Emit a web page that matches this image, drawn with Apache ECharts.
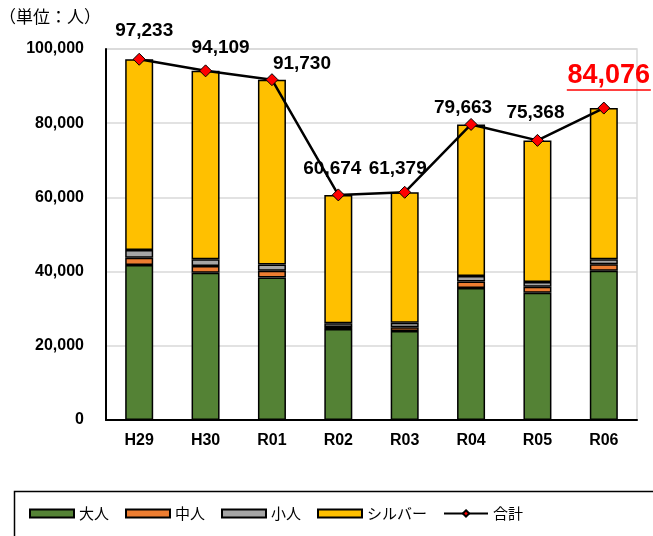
<!DOCTYPE html>
<html>
<head>
<meta charset="utf-8">
<script src="https://cdn.jsdelivr.net/npm/echarts@6/dist/echarts.min.js"></script>
<style>html,body{margin:0;padding:0;background:#fff;}#c{width:653px;height:536px;}</style>
</head>
<body>
<div id="c"></div>
<script>
const categories = ['H29','H30','R01','R02','R03','R04','R05','R06'];
const adult  = [41800, 39700, 38400, 24500, 24000, 35600, 34300, 40200];
const middle = [1900, 1800, 1800, 600, 1000, 1700, 1600, 1800];
const child  = [2100, 1800, 1700, 1000, 1200, 1500, 1300, 1300];
const silver = [51433, 50809, 49830, 34574, 35179, 40863, 38168, 40776];
const total  = [97233, 94109, 91730, 60674, 61379, 79663, 75368, 84076];
const yTicks = [0, 20000, 40000, 60000, 80000, 100000];
const seriesNames = ['大人','中人','小人','シルバー','合計'];
const unitText = '（単位：人）';

// label nudges (styling only)
const labelNudge = [[5,-7],[15,-2],[30,5],[-6,-5],[-7,-3],[-8,4],[-2,-7],[5,-8]];

const numFont = '"Liberation Sans",Arial,sans-serif';
const numWeight = 'bold';
const jpFont = '"Noto Sans CJK JP","Noto Sans",sans-serif';
const fmt = v => v.toLocaleString('en-US');

const chart = echarts.init(document.getElementById('c'), null, {renderer:'canvas'});
const barColors = ['#548235','#ED7D31','#A5A5A5','#FFC000'];
const barData = [adult, middle, child, silver];

const barSeries = barData.map((arr, i) => ({
  name: seriesNames[i], type: 'bar', stack: 'all', barWidth: 28,
  data: arr,
  itemStyle: {color: barColors[i], borderColor: '#000', borderWidth: 1.5},
  emphasis: {disabled: true}
}));

const lastIdx = total.length - 1;
const lineData = total.map((v, i) => ({
  value: v,
  label: i === lastIdx ? {
    fontSize: 27, color: '#FF0000', offset: labelNudge[i]
  } : {offset: labelNudge[i]}
}));

chart.setOption({
  animation: false,
  title: {text: unitText, left: -1, top: 8, padding: 0, textStyle: {fontSize: 17, fontWeight: 'normal', color: '#000', fontFamily: jpFont}},
  grid: {left: 106, right: 16, top: 49, bottom: 116, show: true, borderColor: '#d9d9d9', borderWidth: 1.5},
  legend: {
    left: 29, top: 506, padding: 0, itemWidth: 44, itemHeight: 8, itemGap: 16,
    textStyle: {fontSize: 15, color: '#000', fontFamily: jpFont},
    data: [
      {name: seriesNames[0], icon: 'rect'},
      {name: seriesNames[1], icon: 'rect'},
      {name: seriesNames[2], icon: 'rect'},
      {name: seriesNames[3], icon: 'rect'},
      {name: seriesNames[4]}
    ]
  },
  xAxis: {
    type: 'category', data: categories,
    axisLine: {lineStyle: {color: '#000', width: 2}},
    axisTick: {show: false},
    axisLabel: {margin: 13, fontSize: 16, fontWeight: numWeight, color: '#000', fontFamily: numFont}
  },
  yAxis: {
    type: 'value', min: yTicks[0], max: yTicks[yTicks.length-1], interval: yTicks[1]-yTicks[0],
    axisLine: {show: true, lineStyle: {color: '#000', width: 2}},
    axisTick: {show: false},
    splitLine: {lineStyle: {color: '#d9d9d9', width: 1.5}},
    axisLabel: {margin: 22, fontSize: 16, fontWeight: numWeight, color: '#000', fontFamily: numFont, formatter: fmt}
  },
  series: barSeries.concat([{
    name: seriesNames[4], type: 'line', data: lineData, z: 5,
    symbol: 'diamond', symbolSize: 12,
    lineStyle: {color: '#000', width: 2.5},
    itemStyle: {color: '#FF0000', borderColor: '#000', borderWidth: 1},
    label: {show: true, position: 'top', distance: 5, fontSize: 19, fontWeight: numWeight, color: '#000', fontFamily: numFont,
      formatter: p => fmt(p.value)},
    emphasis: {disabled: true}
  }])
});

// legend frame + underline of last label
const pt = chart.convertToPixel({xAxisIndex: 0, yAxisIndex: 0}, [lastIdx, total[lastIdx]]);
const ux = pt[0] + labelNudge[lastIdx][0];
const uy = pt[1] - 6 - 5 + labelNudge[lastIdx][1] + 1;
chart.setOption({
  graphic: [
    {type: 'rect', left: 12, top: 489, shape: {width: 700, height: 100}, style: {fill: 'none', stroke: '#000', lineWidth: 1.5}, silent: true},
    {type: 'line', shape: {x1: ux - 42, y1: uy, x2: ux + 42, y2: uy}, style: {stroke: '#FF0000', lineWidth: 1.5}, silent: true}
  ]
});
</script>
</body>
</html>
